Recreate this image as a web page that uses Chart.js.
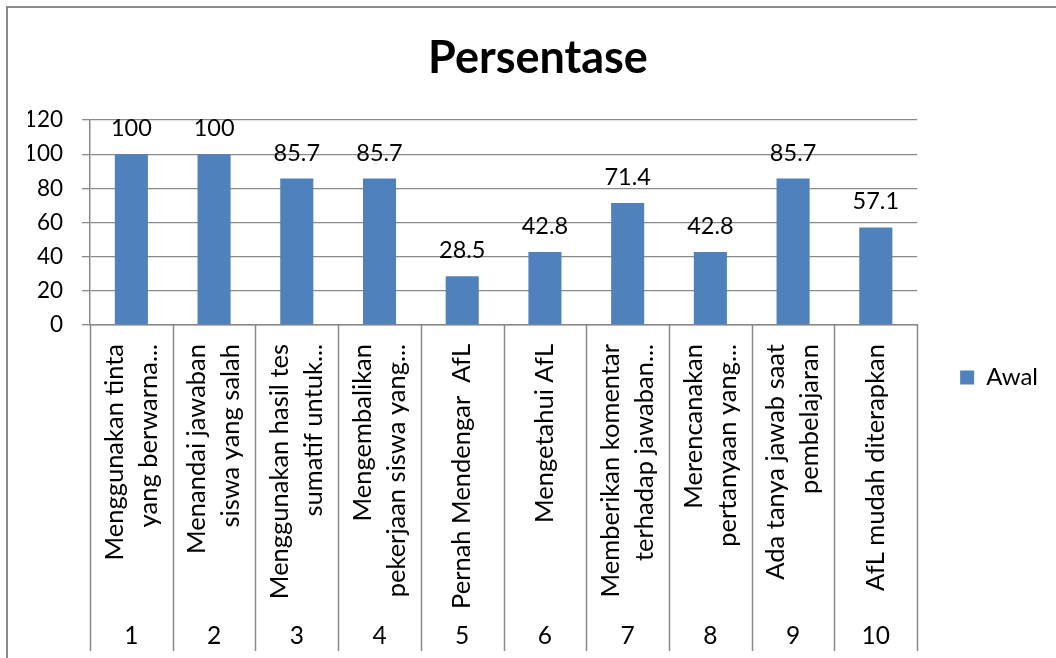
<!DOCTYPE html>
<html><head><meta charset="utf-8">
<script src="https://cdn.jsdelivr.net/npm/chart.js@4.4.1/dist/chart.umd.min.js"></script>
<style>
html,body{margin:0;padding:0;background:#fff;overflow:hidden;}
#frame{position:absolute;left:6px;top:6px;width:1100px;height:700px;border-left:2px solid #8a8a8a;border-top:2px solid #8a8a8a;}
#wrap{position:absolute;left:0;top:0;width:1056px;height:658px;}
</style></head><body>
<div id="frame"></div>
<div id="wrap"><canvas id="c"></canvas></div>
<script>
// ---- data ----
const categoryLines = [
  ["Menggunakan tinta", "yang berwarna..."],
  ["Menandai jawaban", "siswa yang salah"],
  ["Menggunakan hasil tes", "sumatif untuk..."],
  ["Mengembalikan", "pekerjaan siswa yang..."],
  ["Pernah Mendengar  AfL"],
  ["Mengetahui AfL"],
  ["Memberikan komentar", "terhadap jawaban..."],
  ["Merencanakan", "pertanyaan yang..."],
  ["Ada tanya jawab saat", "pembelajaran"],
  ["AfL mudah diterapkan"]
];
const itemNumbers = ["1", "2", "3", "4", "5", "6", "7", "8", "9", "10"];
const seriesName = "Awal";
const awalValues = [100, 100, 85.7, 85.7, 28.5, 42.8, 71.4, 42.8, 85.7, 57.1];
const chartTitle = "Persentase";
const yMin = 0, yMax = 120, yStep = 20;

// ---- styling ----
const FONT = "Lato";
const HALF_LINE = 17;
const LABEL_SIZE = 25.5;
const GRID = "#8a8a8a";
const BAR = "#4F81BD";

// tick labels: interleave blank half-lines so each block centres on its tick
const tickLabels = categoryLines.map(l => l.length === 1 ? ["", l[0]] : [l[0], "", l[1]]);

const valueLabels = {
  id: "valueLabels",
  afterDatasetsDraw(chart) {
    const ctx = chart.ctx;
    const meta = chart.getDatasetMeta(0);
    const vals = chart.data.datasets[0].data;
    ctx.save();
    ctx.font = "23.5px " + FONT;
    ctx.fillStyle = "#000";
    ctx.textAlign = "center";
    ctx.textBaseline = "alphabetic";
    meta.data.forEach((bar, i) => ctx.fillText(String(vals[i]), bar.x, bar.y - 18));
    ctx.restore();
  }
};

const separators = {
  id: "separators",
  afterDraw(chart) {
    const xs = chart.scales.x, x2 = chart.scales.x2;
    const ctx = chart.ctx;
    const half = (xs.getPixelForValue(1) - xs.getPixelForValue(0)) / 2;
    ctx.save();
    ctx.strokeStyle = GRID;
    ctx.lineWidth = 1.5;
    for (let i = 0; i <= itemNumbers.length; i++) {
      const px = Math.round(xs.getPixelForValue(i) - half) + 0.5;
      ctx.beginPath();
      ctx.moveTo(px, chart.chartArea.bottom);
      ctx.lineTo(px, x2.bottom);
      ctx.stroke();
    }
    ctx.restore();
  }
};

new Chart(document.getElementById("c"), {
  type: "bar",
  data: {
    labels: tickLabels,
    datasets: [{
      label: seriesName,
      data: awalValues,
      backgroundColor: BAR,
      borderWidth: 0,
      barPercentage: 0.4,
      categoryPercentage: 1.0,
      xAxisID: "x",
      yAxisID: "y"
    }]
  },
  options: {
    responsive: true,
    maintainAspectRatio: false,
    animation: false,
    layout: { padding: { left: 28, right: 8, top: 0, bottom: 7 } },
    plugins: {
      title: {
        display: true,
        text: chartTitle,
        color: "#000",
        font: { family: FONT, size: 45, weight: "bold" },
        padding: { top: 31, bottom: 35 }
      },
      legend: {
        display: true,
        position: "right",
        title: { display: true, text: " ", font: { size: 1 }, padding: { top: 0, bottom: 103 } },
        labels: {
          color: "#000",
          font: { family: FONT, size: 24 },
          boxWidth: 14,
          boxHeight: 14,
          padding: 10
        }
      },
      tooltip: { enabled: false }
    },
    scales: {
      x: {
        type: "category",
        position: "bottom",
        weight: 0,
        offset: true,
        grid: { display: false, drawTicks: false },
        border: { display: true, color: GRID, width: 1.5 },
        ticks: {
          autoSkip: false,
          minRotation: 90,
          maxRotation: 90,
          padding: 19,
          labelOffset: -HALF_LINE,
          color: "#000",
          font: { family: FONT, size: LABEL_SIZE, lineHeight: HALF_LINE / LABEL_SIZE }
        },
        afterFit(s) { s.height = 290; }
      },
      x2: {
        type: "category",
        labels: itemNumbers,
        position: "bottom",
        weight: 1,
        offset: true,
        grid: { display: false, drawTicks: false },
        border: { display: false },
        ticks: {
          autoSkip: false,
          minRotation: 0,
          maxRotation: 0,
          padding: 6,
          color: "#000",
          font: { family: FONT, size: 24.5 }
        },
        afterFit(s) { s.height = 36; }
      },
      y: {
        type: "linear",
        position: "left",
        min: yMin,
        max: yMax,
        grid: { color: GRID, lineWidth: 1.3, tickLength: 8, drawTicks: true },
        border: { display: true, color: GRID, width: 1.5 },
        ticks: {
          stepSize: yStep,
          padding: 19,
          color: "#000",
          font: { family: FONT, size: 22.5 }
        },
        afterFit(s) { s.width = 62; }
      },
      ySpacer: {
        type: "linear",
        position: "right",
        grid: { display: false, drawTicks: false },
        border: { display: false },
        ticks: { display: false },
        afterFit(s) { s.width = 33; }
      }
    }
  },
  plugins: [valueLabels, separators]
});
</script>
</body></html>
